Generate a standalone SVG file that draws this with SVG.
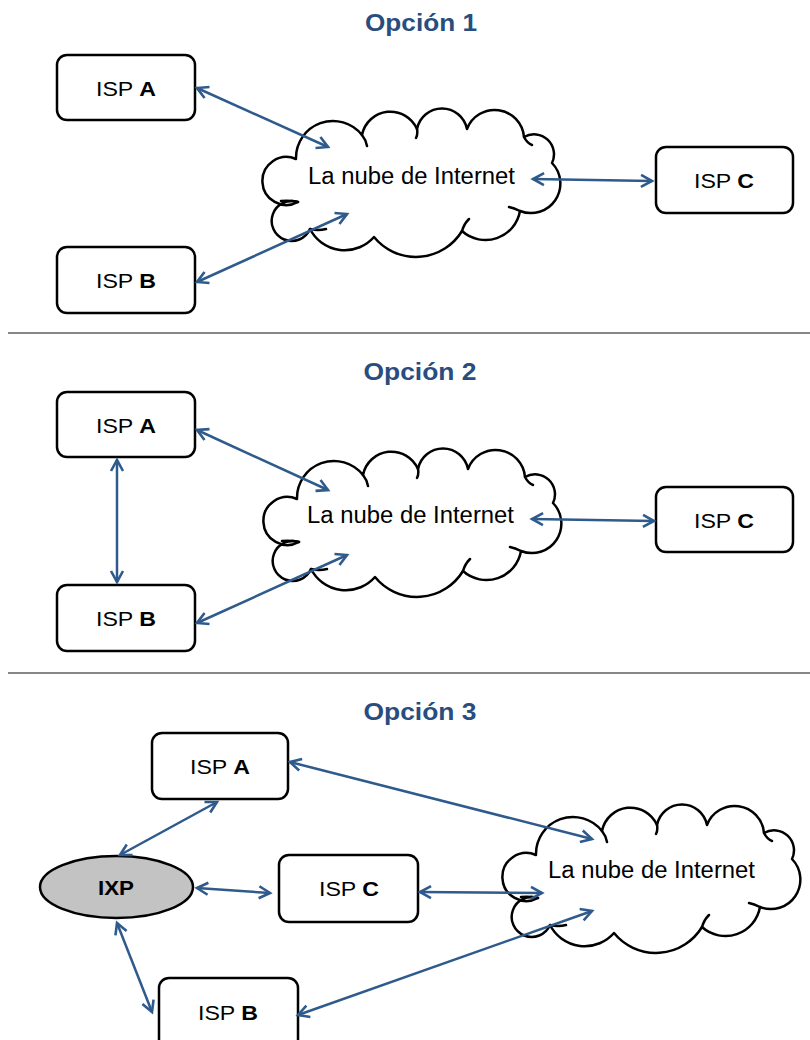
<svg xmlns="http://www.w3.org/2000/svg" width="810" height="1040" viewBox="0 0 810 1040">
<style>
.title{font-family:"Liberation Sans",Arial,sans-serif;font-weight:bold;font-size:23px;fill:#284D7E}
.lbl{font-family:"Liberation Sans",Arial,sans-serif;font-size:21px;fill:#000}
.cl{font-family:"Liberation Sans",Arial,sans-serif;font-size:23px;fill:#000}
.box{fill:#fff;stroke:#000;stroke-width:2.5}
.cloud{fill:#fff;stroke:#000;stroke-width:2.5;stroke-linejoin:round}
.hook{fill:none;stroke:#000;stroke-width:2.5;stroke-linecap:round}
.sep{stroke:#5f5f5f;stroke-width:1.5}
.conn line{stroke:#2F5A8C;stroke-width:2.5;marker-start:url(#ah);marker-end:url(#ah)}
</style>
<defs>
<marker id="ah" markerUnits="userSpaceOnUse" markerWidth="16" markerHeight="16" viewBox="0 0 16 16" refX="13" refY="8" orient="auto-start-reverse">
<path d="M2,2 L13,8 L2,14" fill="none" stroke="#2F5A8C" stroke-width="2.6"/>
</marker>
<g id="cloudShape">
<path class="cloud" d="M36,95 A24,24 0 1 1 34,52 A37,37 0 0 1 100,28 A29,29 0 0 1 155,22 A25.5,25.5 0 0 1 205,22 A29.5,29.5 0 0 1 262,30 A20,20 0 0 1 290,56 A29.5,29.5 0 0 1 258,104 A35,35 0 0 1 200,124 A54,54 0 0 1 112,130 A39,39 0 0 1 48,122 A20,20 0 1 1 36,95 Z"/>
<path class="hook" d="M36,95 Q27,93 19,94 M100,28 Q104,33 105,39 M48,122 Q56,124 64,122 M200,124 Q202,117 207,112 M258,104 Q252,101 247,100 M262,30 Q265,36 270,38 M155,22 Q156,27 154,31"/>
</g>
</defs>
<rect width="810" height="1040" fill="#fff"/>

<text class="title" x="421" y="31" text-anchor="middle" textLength="112" lengthAdjust="spacingAndGlyphs">Opción 1</text>
<line class="sep" x1="8" y1="333" x2="810" y2="333"/>
<text class="title" x="420" y="380" text-anchor="middle" textLength="113" lengthAdjust="spacingAndGlyphs">Opción 2</text>
<line class="sep" x1="8" y1="673" x2="810" y2="673"/>
<text class="title" x="420" y="720" text-anchor="middle" textLength="113" lengthAdjust="spacingAndGlyphs">Opción 3</text>

<g id="o1-ispA"><rect class="box" x="57" y="55" width="138" height="65" rx="10"/><text class="lbl" x="126" y="96" text-anchor="middle" textLength="60" lengthAdjust="spacingAndGlyphs">ISP <tspan font-weight="bold">A</tspan></text></g>
<g id="o1-ispB"><rect class="box" x="57" y="247" width="138" height="66" rx="10"/><text class="lbl" x="126" y="288" text-anchor="middle" textLength="60" lengthAdjust="spacingAndGlyphs">ISP <tspan font-weight="bold">B</tspan></text></g>
<g id="o1-ispC"><rect class="box" x="656" y="147" width="137" height="66" rx="10"/><text class="lbl" x="724" y="188" text-anchor="middle" textLength="60" lengthAdjust="spacingAndGlyphs">ISP <tspan font-weight="bold">C</tspan></text></g>
<g id="o1-cloud" transform="translate(262,107)"><use href="#cloudShape"/><text class="cl" x="46" y="77" textLength="207" lengthAdjust="spacingAndGlyphs">La nube de Internet</text></g>

<g id="o2-ispA"><rect class="box" x="57" y="392" width="138" height="65" rx="10"/><text class="lbl" x="126" y="433" text-anchor="middle" textLength="60" lengthAdjust="spacingAndGlyphs">ISP <tspan font-weight="bold">A</tspan></text></g>
<g id="o2-ispB"><rect class="box" x="57" y="585" width="138" height="66" rx="10"/><text class="lbl" x="126" y="626" text-anchor="middle" textLength="60" lengthAdjust="spacingAndGlyphs">ISP <tspan font-weight="bold">B</tspan></text></g>
<g id="o2-ispC"><rect class="box" x="656" y="487" width="137" height="65" rx="10"/><text class="lbl" x="724" y="528" text-anchor="middle" textLength="60" lengthAdjust="spacingAndGlyphs">ISP <tspan font-weight="bold">C</tspan></text></g>
<g id="o2-cloud" transform="translate(263,447)"><use href="#cloudShape"/><text class="cl" x="44" y="76" textLength="207" lengthAdjust="spacingAndGlyphs">La nube de Internet</text></g>

<g id="o3-ispA"><rect class="box" x="152" y="733" width="136" height="66" rx="10"/><text class="lbl" x="220" y="774" text-anchor="middle" textLength="60" lengthAdjust="spacingAndGlyphs">ISP <tspan font-weight="bold">A</tspan></text></g>
<g id="o3-ixp"><ellipse cx="116.5" cy="887" rx="76.5" ry="31" fill="#C3C3C3" stroke="#000" stroke-width="2.5"/><text class="lbl" x="116" y="895" text-anchor="middle" font-weight="bold" textLength="36" lengthAdjust="spacingAndGlyphs">IXP</text></g>
<g id="o3-ispC"><rect class="box" x="279" y="855" width="139" height="67" rx="10"/><text class="lbl" x="349" y="896" text-anchor="middle" textLength="60" lengthAdjust="spacingAndGlyphs">ISP <tspan font-weight="bold">C</tspan></text></g>
<g id="o3-ispB"><rect class="box" x="159" y="978" width="139" height="72" rx="10"/><text class="lbl" x="228" y="1020" text-anchor="middle" textLength="60" lengthAdjust="spacingAndGlyphs">ISP <tspan font-weight="bold">B</tspan></text></g>
<g id="o3-cloud" transform="translate(502,803)"><use href="#cloudShape"/><text class="cl" x="46" y="75" textLength="207" lengthAdjust="spacingAndGlyphs">La nube de Internet</text></g>

<g id="connectors" class="conn">
<line x1="197" y1="88" x2="328" y2="147"/>
<line x1="197" y1="282" x2="347" y2="214"/>
<line x1="533" y1="179" x2="652" y2="181"/>
<line x1="197" y1="430" x2="328" y2="490"/>
<line x1="197" y1="623" x2="347" y2="555"/>
<line x1="117" y1="460" x2="117" y2="582"/>
<line x1="532" y1="519" x2="654" y2="521"/>
<line x1="120" y1="855" x2="217" y2="802"/>
<line x1="197" y1="888" x2="270" y2="893"/>
<line x1="117" y1="923" x2="152" y2="1012"/>
<line x1="290" y1="762" x2="592" y2="839"/>
<line x1="420" y1="892" x2="542" y2="893"/>
<line x1="298" y1="1015" x2="592" y2="911"/>
</g>
</svg>
